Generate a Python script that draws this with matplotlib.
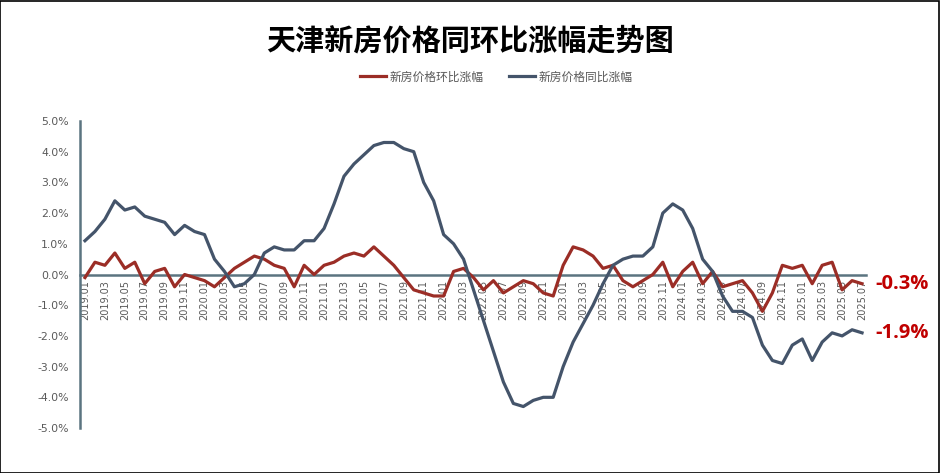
import matplotlib.pyplot as plt
import numpy as np

plt.rcParams['font.family'] = ['Noto Sans CJK SC', 'DejaVu Sans']

# 2019.01 - 2025.07, monthly
months = ['%d.%02d' % (y, m) for y in range(2019, 2026) for m in range(1, 13)][:79]

mom = [-0.1, 0.4, 0.3, 0.7, 0.2, 0.4, -0.3, 0.1, 0.2, -0.4, 0.0, -0.1,
       -0.2, -0.4, -0.1, 0.2, 0.4, 0.6, 0.5, 0.3, 0.2, -0.4, 0.3, 0.0,
       0.3, 0.4, 0.6, 0.7, 0.6, 0.9, 0.6, 0.3, -0.1, -0.5, -0.6, -0.7,
       -0.7, 0.1, 0.2, -0.1, -0.5, -0.2, -0.6, -0.4, -0.2, -0.3, -0.6, -0.7,
       0.3, 0.9, 0.8, 0.6, 0.2, 0.3, -0.2, -0.4, -0.2, 0.0, 0.4, -0.4,
       0.1, 0.4, -0.3, 0.1, -0.4, -0.3, -0.2, -0.6, -1.2, -0.6, 0.3, 0.2,
       0.3, -0.3, 0.3, 0.4, -0.5, -0.2, -0.3]

yoy = [1.1, 1.4, 1.8, 2.4, 2.1, 2.2, 1.9, 1.8, 1.7, 1.3, 1.6, 1.4,
       1.3, 0.5, 0.1, -0.4, -0.3, 0.0, 0.7, 0.9, 0.8, 0.8, 1.1, 1.1,
       1.5, 2.3, 3.2, 3.6, 3.9, 4.2, 4.3, 4.3, 4.1, 4.0, 3.0, 2.4,
       1.3, 1.0, 0.5, -0.5, -1.5, -2.5, -3.5, -4.2, -4.3, -4.1, -4.0, -4.0,
       -3.0, -2.2, -1.6, -1.0, -0.3, 0.3, 0.5, 0.6, 0.6, 0.9, 2.0, 2.3,
       2.1, 1.5, 0.5, 0.1, -0.7, -1.2, -1.2, -1.4, -2.3, -2.8, -2.9, -2.3,
       -2.1, -2.8, -2.2, -1.9, -2.0, -1.8, -1.9]

red = '#9B2D26'
blue = '#44546A'
axis_col = '#5B7480'
txt_col = '#595959'

fig = plt.figure(figsize=(9.4, 4.73), dpi=100)
fig.patches.append(plt.Rectangle((0.0005, 0.001), 0.998, 0.997, transform=fig.transFigure,
                                 fill=False, edgecolor='black', linewidth=1.2))
ax = fig.add_axes([0.0851, 0.0951, 0.8362, 0.6491])

# spine position first, it resets the ticks
for s in ['top', 'right']:
    ax.spines[s].set_visible(False)
ax.spines['bottom'].set_position(('data', 0))
ax.spines['bottom'].set_color(axis_col)
ax.spines['bottom'].set_linewidth(1.8)
ax.spines['left'].set_color(axis_col)
ax.spines['left'].set_linewidth(1.8)
ax.spines['bottom'].set_zorder(1)

x = np.arange(len(months))
ax.plot(x, mom, color=red, lw=2.3, label='新房价格环比涨幅', zorder=3)
ax.plot(x, yoy, color=blue, lw=2.3, label='新房价格同比涨幅', zorder=3)

ax.set_xlim(-0.5, 78.4)
ax.set_ylim(-5, 5)
ax.set_yticks(np.arange(-5, 5.1, 1))
ax.set_yticklabels(['%.1f%%' % v for v in np.arange(-5, 5.1, 1)], fontsize=7.8, color=txt_col,
                   family='DejaVu Sans')
ax.set_xticks(x[::2])
ax.set_xticklabels(months[::2], rotation=90, fontsize=7, color=txt_col, family='DejaVu Sans')
ax.tick_params(length=0)
ax.tick_params(axis='x', pad=4)
ax.tick_params(axis='y', pad=8)

ax.text(79.3, mom[-1], '%.1f%%' % mom[-1], color='#C00000', fontsize=14.5, fontweight='bold',
        va='center', ha='left', family='Open Sans')
ax.text(79.3, yoy[-1], '%.1f%%' % yoy[-1], color='#C00000', fontsize=14.5, fontweight='bold',
        va='center', ha='left', family='Open Sans')

fig.text(0.5, 0.915, '天津新房价格同环比涨幅走势图', ha='center', va='center',
         fontsize=21, fontweight='bold', color='black')
fig.legend(loc='center', bbox_to_anchor=(0.528, 0.837), ncol=2, frameon=False,
           fontsize=8.5, labelcolor=txt_col, handlelength=2.2, columnspacing=2.2,
           handletextpad=0.3)

fig.savefig('out.png', dpi=100)
